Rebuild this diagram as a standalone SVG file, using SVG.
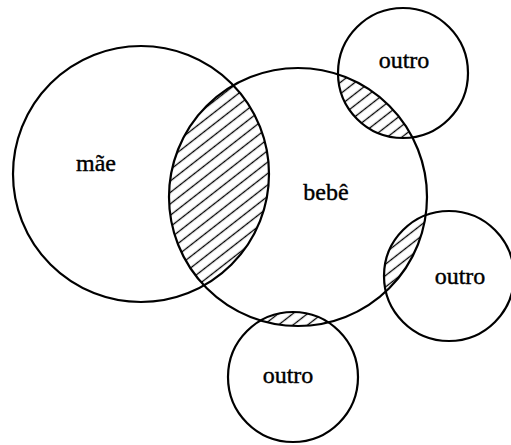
<svg xmlns="http://www.w3.org/2000/svg" width="511" height="445" viewBox="0 0 511 445">
<style>
.c{fill:none;stroke:#000;stroke-width:2.2}
.h{fill:url(#hatch)}
.t{font-family:"Liberation Serif","Times New Roman",serif;font-size:24px;fill:#000;stroke:#000;stroke-width:0.4;text-anchor:middle}
</style>
<defs>
<pattern id="hatch" patternUnits="userSpaceOnUse" width="9" height="9" patternTransform="rotate(-38)">
<rect width="9" height="9" fill="#fff"/>
<line x1="0" y1="4.5" x2="9" y2="4.5" stroke="#000" stroke-width="1.3"/>
</pattern>
<clipPath id="clipBebe"><circle cx="298" cy="197" r="129"/></clipPath>
</defs>
<rect width="511" height="445" fill="#fff"/>
<g id="hatching" clip-path="url(#clipBebe)">
<circle class="h" cx="141" cy="174" r="128"/>
<circle class="h" cx="403" cy="73" r="65"/>
<circle class="h" cx="449" cy="276" r="65"/>
<circle class="h" cx="293" cy="377" r="65"/>
</g>
<g id="mae"><circle class="c" cx="141" cy="174" r="128"/><text class="t" x="96" y="171">mãe</text></g>
<g id="bebe"><circle class="c" cx="298" cy="197" r="129"/><text class="t" x="326" y="200">bebê</text></g>
<g id="outro1"><circle class="c" cx="403" cy="73" r="65"/><text class="t" x="404" y="68">outro</text></g>
<g id="outro2"><circle class="c" cx="449" cy="276" r="65"/><text class="t" x="460" y="284">outro</text></g>
<g id="outro3"><circle class="c" cx="293" cy="377" r="65"/><text class="t" x="288" y="383">outro</text></g>
<g id="connectors"></g>
</svg>
